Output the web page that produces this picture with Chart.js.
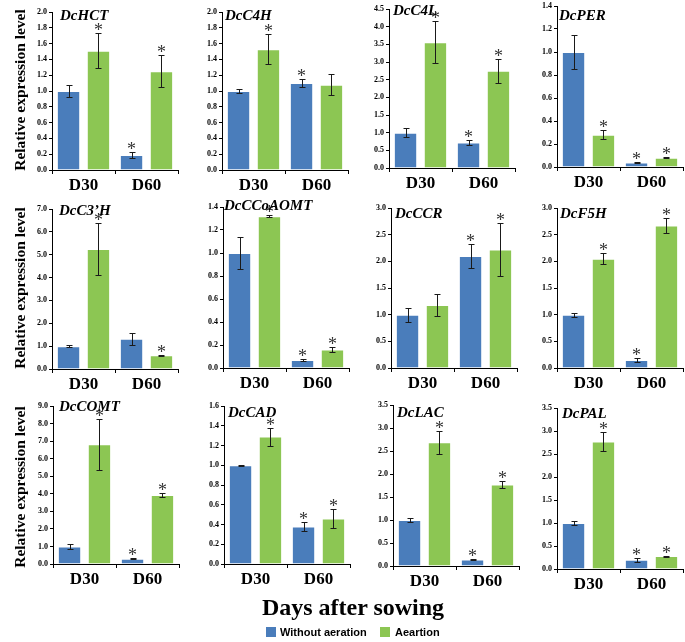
<!DOCTYPE html>
<html>
<head>
<meta charset="utf-8">
<script src="https://cdn.jsdelivr.net/npm/chart.js@4.4.0/dist/chart.umd.min.js"></script>
<style>
  html, body { margin: 0; padding: 0; background: #fff; }
  #fig { position: relative; width: 685px; height: 642px; overflow: hidden; font-family: "Liberation Serif", "Times New Roman", serif; color: #000; }
  .panel { position: absolute; }
  .gene { position: absolute; font-weight: bold; font-style: italic; font-size: 15px; line-height: 16px; white-space: nowrap; }
  .ytitle { position: absolute; width: 220px; height: 20px; line-height: 20px; text-align: center; font-weight: bold; font-size: 15.5px; transform: rotate(-90deg); white-space: nowrap; }
  .xtitle { position: absolute; left: 0; width: 706px; top: 593px; text-align: center; font-weight: bold; font-size: 24px; line-height: 28px; }
  .legend { position: absolute; top: 626px; font-family: "Liberation Sans", Arial, sans-serif; font-weight: bold; font-size: 11px; line-height: 12px; white-space: nowrap; }
  .swatch { position: absolute; top: 627px; width: 10px; height: 10px; }
</style>
</head>
<body>
<div id="fig"></div>
<script>
// ===== DATA =====
const genes = ['DcHCT', 'DcC4H', 'DcC4L', 'DcPER', 'DcC3\u2019H', 'DcCCoAOMT', 'DcCCR', 'DcF5H', 'DcCOMT', 'DcCAD', 'DcLAC', 'DcPAL'];
const days = ['D30', 'D60'];
const seriesNames = ['Without aeration', 'Aeartion'];

// [D30, D60] per gene
const withoutAeration = [[1.0, 0.19], [1.0, 1.10], [1.0, 0.72], [1.0, 0.04], [1.0, 1.32], [1.0, 0.07], [1.0, 2.10], [1.0, 0.15], [1.0, 0.30], [1.0, 0.38], [1.0, 0.14], [1.0, 0.20]];
const withoutAerationErr = [[0.07, 0.04], [0.02, 0.05], [0.13, 0.08], [0.15, 0.006], [0.03, 0.25], [0.14, 0.01], [0.13, 0.22], [0.04, 0.03], [0.12, 0.04], [0.003, 0.05], [0.05, 0.01], [0.05, 0.04]];
const aeration = [[1.51, 1.25], [1.53, 1.08], [3.56, 2.75], [0.28, 0.08], [5.25, 0.60], [1.32, 0.16], [1.18, 2.22], [2.05, 2.67], [6.82, 3.93], [1.29, 0.46], [2.69, 1.77], [2.77, 0.28]];
const aerationErr = [[0.22, 0.20], [0.19, 0.13], [0.60, 0.34], [0.04, 0.006], [1.15, 0.03], [0.01, 0.02], [0.21, 0.49], [0.10, 0.14], [1.45, 0.12], [0.09, 0.10], [0.25, 0.07], [0.20, 0.01]];
// significance asterisks
const withoutAerationSig = [[0, 1], [0, 1], [0, 1], [0, 1], [0, 0], [0, 1], [0, 1], [0, 1], [0, 1], [0, 1], [0, 1], [0, 1]];
const aerationSig = [[1, 1], [1, 0], [1, 1], [1, 1], [1, 1], [1, 1], [0, 1], [1, 1], [1, 1], [1, 1], [1, 1], [1, 1]];

const yMax = [2.0, 2.0, 4.5, 1.4, 7.0, 1.4, 3.0, 3.0, 9.0, 1.6, 3.5, 3.5];
const yStep = [0.2, 0.2, 0.5, 0.2, 1.0, 0.2, 0.5, 0.5, 1.0, 0.2, 0.5, 0.5];

// ===== LAYOUT =====
// axis x, top tick y, zero y, title x, title center y
const boxes = [
  [52, 12, 170, 60, 15], [222, 12, 170, 225, 15], [389, 9, 168, 393, 10], [557, 6, 167, 559, 15],
  [52, 209, 369, 59, 210], [223, 207, 368, 224, 205], [391, 208, 368, 395, 213], [557, 208, 368, 560, 213],
  [53, 406, 564, 59, 406], [224, 406, 564, 228, 412], [393, 405, 566, 397, 412], [557, 408, 569, 562, 413]
];
const PLOT_W = 126, AXIS_W = 34, PAD_TOP = 10, PAD_RIGHT = 6, XAXIS_H = 26;
const BLUE = '#4a7dbb', GREEN = '#8cc653';
const SERIF = '"Liberation Serif", "Times New Roman", serif';

// ===== PLUGIN: error bars + asterisks =====
const errorBars = {
  id: 'errorBars',
  afterDatasetsDraw(chart) {
    const ctx = chart.ctx, y = chart.scales.y;
    chart.data.datasets.forEach((ds, di) => {
      chart.getDatasetMeta(di).data.forEach((bar, i) => {
        const v = ds.data[i], e = ds.errors[i];
        const top = Math.round(y.getPixelForValue(v + e)) + 0.5;
        const bot = Math.round(y.getPixelForValue(v - e)) + 0.5;
        const x = Math.round(bar.x) + 0.5;
        ctx.save();
        ctx.strokeStyle = '#1a1a1a';
        ctx.lineWidth = 1;
        ctx.beginPath();
        ctx.moveTo(x, top); ctx.lineTo(x, bot);
        ctx.moveTo(x - 3, top); ctx.lineTo(x + 3, top);
        ctx.moveTo(x - 3, bot); ctx.lineTo(x + 3, bot);
        ctx.stroke();
        if (ds.sig[i]) {
          ctx.fillStyle = '#333';
          ctx.font = '18px ' + SERIF;
          ctx.textAlign = 'center';
          ctx.textBaseline = 'alphabetic';
          ctx.fillText('*', bar.x, top + 2);
        }
        ctx.restore();
      });
    });
  }
};

const fig = document.getElementById('fig');

function addText(cls, text, style) {
  const d = document.createElement('div');
  d.className = cls;
  d.textContent = text;
  Object.assign(d.style, style);
  fig.appendChild(d);
  return d;
}

function makePanel(k) {
  const [ax, ty, zy, tx, tcy] = boxes[k];
  const w = AXIS_W + PLOT_W + PAD_RIGHT;
  const h = PAD_TOP + (zy - ty) + XAXIS_H;
  const canvas = document.createElement('canvas');
  canvas.className = 'panel';
  canvas.width = w; canvas.height = h;
  canvas.style.left = (ax - AXIS_W) + 'px';
  canvas.style.top = (ty - PAD_TOP) + 'px';
  canvas.style.width = w + 'px'; canvas.style.height = h + 'px';
  fig.appendChild(canvas);

  new Chart(canvas, {
    type: 'bar',
    data: {
      labels: days,
      datasets: [
        { label: seriesNames[0], data: withoutAeration[k], errors: withoutAerationErr[k], sig: withoutAerationSig[k],
          backgroundColor: BLUE, borderColor: 'rgba(255,255,255,0.55)', borderWidth: 1 },
        { label: seriesNames[1], data: aeration[k], errors: aerationErr[k], sig: aerationSig[k],
          backgroundColor: GREEN, borderColor: 'rgba(255,255,255,0.55)', borderWidth: 1 }
      ]
    },
    options: {
      responsive: false, animation: false, devicePixelRatio: 1,
      layout: { padding: { top: PAD_TOP, right: PAD_RIGHT, left: 0, bottom: 0 } },
      datasets: { bar: { barPercentage: 0.78, categoryPercentage: 0.95 } },
      plugins: { legend: { display: false }, tooltip: { enabled: false } },
      scales: {
        x: {
          afterFit: s => { s.height = XAXIS_H; },
          border: { display: true, color: '#000', width: 1 },
          grid: { display: true, drawOnChartArea: false, drawTicks: true, tickLength: 4, color: '#000' },
          ticks: { color: '#000', padding: 1, font: { family: SERIF, size: 17, weight: 'bold' } }
        },
        y: {
          min: 0, max: yMax[k],
          afterFit: s => { s.width = AXIS_W; },
          border: { display: true, color: '#000', width: 1 },
          grid: { display: true, drawOnChartArea: false, drawTicks: true, tickLength: 3, color: '#000' },
          ticks: { stepSize: yStep[k], color: '#000', padding: 2, font: { family: SERIF, size: 8, weight: 'bold' },
                   callback: v => Number(v).toFixed(1) }
        }
      }
    },
    plugins: [errorBars]
  });

  addText('gene', genes[k], { left: tx + 'px', top: (tcy - 8) + 'px' });
}

genes.forEach((g, k) => makePanel(k));

// y titles
[90, 288, 487].forEach(cy => {
  addText('ytitle', 'Relative expression level', { left: (20 - 110) + 'px', top: (cy - 10) + 'px' });
});

addText('xtitle', 'Days after sowing', {});

// legend
const sw1 = document.createElement('div'); sw1.className = 'swatch';
Object.assign(sw1.style, { left: '266px', background: BLUE }); fig.appendChild(sw1);
addText('legend', seriesNames[0], { left: '280px' });
const sw2 = document.createElement('div'); sw2.className = 'swatch';
Object.assign(sw2.style, { left: '380px', background: GREEN }); fig.appendChild(sw2);
addText('legend', seriesNames[1], { left: '395px' });
</script>
</body>
</html>
